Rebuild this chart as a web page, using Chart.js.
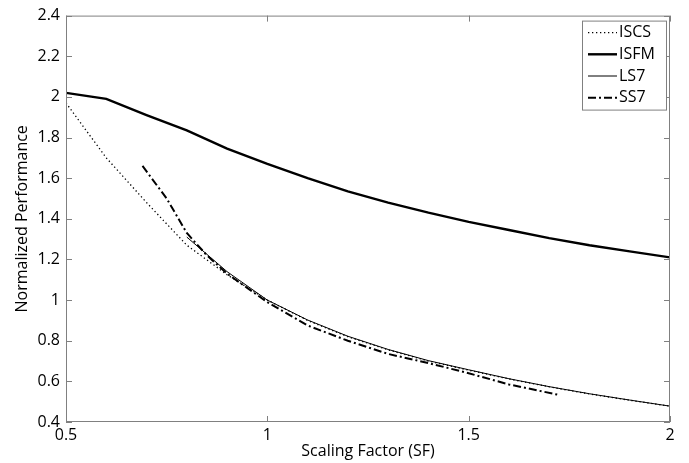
<!DOCTYPE html>
<html>
<head>
<meta charset="utf-8">
<script src="https://cdn.jsdelivr.net/npm/chart.js@4"></script>
<style>
  html, body { margin: 0; padding: 0; background: #fff; }
  #wrap { width: 689px; height: 463px; }
</style>
</head>
<body>
<div id="wrap"><canvas id="perf"></canvas></div>
<script>
// scaling factor samples and series
const sf = [0.5, 0.6, 0.7, 0.8, 0.9, 1.0, 1.1, 1.2, 1.3, 1.4, 1.5, 1.6, 1.7, 1.8, 1.9, 2.0];
const isfm = [2.02, 1.99, 1.91, 1.835, 1.745, 1.67, 1.6, 1.535, 1.48, 1.43, 1.385, 1.345, 1.305, 1.27, 1.24, 1.21];
const iscs = [1.97, 1.7, 1.48, 1.27, 1.125, 1.0, 0.9, 0.82, 0.755, 0.7, 0.655, 0.612, 0.573, 0.538, 0.507, 0.478];

const ls7X = [0.8, 0.9, 1.0, 1.1, 1.2, 1.3, 1.4, 1.5, 1.6, 1.7, 1.8, 1.9, 2.0];
const ls7Y = [1.31, 1.14, 1.0, 0.902, 0.822, 0.757, 0.702, 0.657, 0.613, 0.574, 0.539, 0.508, 0.478];

const ss7X = [0.69, 0.75, 0.8, 0.85, 0.9, 0.95, 1.0, 1.1, 1.2, 1.3, 1.4, 1.5, 1.6, 1.72];
const ss7Y = [1.66, 1.5, 1.33, 1.22, 1.13, 1.06, 0.99, 0.875, 0.8, 0.735, 0.69, 0.64, 0.585, 0.535];

const xTicks = [0.5, 1, 1.5, 2];
const yTicks = [0.4, 0.6, 0.8, 1, 1.2, 1.4, 1.6, 1.8, 2, 2.2, 2.4];

const FONT = "'Open Sans', sans-serif";
const AXIS = "#808080";

function pts(xs, ys) {
  return xs.map((x, i) => ({ x: x, y: ys[i] }));
}

// matlab style box with inward ticks
const boxPlugin = {
  id: "box",
  afterDatasetsDraw(chart) {
    const ctx = chart.ctx;
    const a = chart.chartArea;
    const xs = chart.scales.x, ys = chart.scales.y;
    ctx.save();
    ctx.strokeStyle = AXIS;
    ctx.lineWidth = 1;
    ctx.strokeRect(a.left + 0.5, a.top + 0.5, a.right - a.left - 1, a.bottom - a.top - 1);
    ctx.beginPath();
    xTicks.forEach((v) => {
      const px = Math.round(xs.getPixelForValue(v)) + 0.5;
      ctx.moveTo(px, a.bottom); ctx.lineTo(px, a.bottom - 6);
      ctx.moveTo(px, a.top); ctx.lineTo(px, a.top + 6);
    });
    yTicks.forEach((v) => {
      const py = Math.round(ys.getPixelForValue(v)) + 0.5;
      ctx.moveTo(a.left, py); ctx.lineTo(a.left + 6, py);
      ctx.moveTo(a.right, py); ctx.lineTo(a.right - 6, py);
    });
    ctx.stroke();
    ctx.restore();
  },
};

// legend box in the upper right corner
const legendPlugin = {
  id: "boxLegend",
  afterDraw(chart) {
    const ctx = chart.ctx;
    const a = chart.chartArea;
    const w = 84, h = 89;
    const x0 = a.right - 88, y0 = a.top + 5;
    ctx.save();
    ctx.fillStyle = "#fff";
    ctx.fillRect(x0, y0, w, h);
    ctx.strokeStyle = AXIS;
    ctx.lineWidth = 1;
    ctx.strokeRect(x0 + 0.5, y0 + 0.5, w, h);
    ctx.font = "16px " + FONT;
    ctx.textBaseline = "middle";
    ctx.fillStyle = "#000";
    chart.data.datasets.forEach((ds, i) => {
      const y = y0 + 12 + i * 21.7;
      ctx.beginPath();
      ctx.setLineDash(ds.borderDash || []);
      ctx.lineWidth = ds.borderWidth;
      ctx.strokeStyle = ds.borderColor;
      ctx.moveTo(x0 + 6, y);
      ctx.lineTo(x0 + 35, y);
      ctx.stroke();
      ctx.setLineDash([]);
      ctx.fillText(ds.label, x0 + 37, y);
    });
    ctx.restore();
  },
};

new Chart(document.getElementById("perf"), {
  type: "scatter",
  data: {
    datasets: [
      { label: "ISCS", data: pts(sf, iscs), borderColor: "#000", borderWidth: 1.3, borderDash: [1.3, 2.7] },
      { label: "ISFM", data: pts(sf, isfm), borderColor: "#000", borderWidth: 2.4 },
      { label: "LS7", data: pts(ls7X, ls7Y), borderColor: "#000", borderWidth: 1 },
      { label: "SS7", data: pts(ss7X, ss7Y), borderColor: "#000", borderWidth: 2, borderDash: [8, 3, 2, 3] },
    ],
  },
  options: {
    responsive: true,
    maintainAspectRatio: false,
    animation: false,
    showLine: true,
    elements: {
      point: { radius: 0, hoverRadius: 0 },
      line: { tension: 0 },
    },
    layout: { padding: { top: 13, right: 19, left: 0, bottom: 0 } },
    plugins: { legend: { display: false }, tooltip: { enabled: false } },
    scales: {
      x: {
        type: "linear",
        min: 0.5,
        max: 2,
        afterBuildTicks: (s) => { s.ticks = xTicks.map((v) => ({ value: v })); },
        afterFit: (s) => { s.height = 41; },
        grid: { display: false, drawTicks: false },
        border: { display: false },
        ticks: { color: "#000", padding: 4, font: { family: FONT, size: 16 }, callback: (v) => String(v) },
        title: { display: true, text: "Scaling Factor (SF)", color: "#000", font: { family: FONT, size: 16 }, padding: { bottom: 2 } },
      },
      y: {
        type: "linear",
        min: 0.4,
        max: 2.4,
        afterBuildTicks: (s) => { s.ticks = yTicks.map((v) => ({ value: v })); },
        afterFit: (s) => { s.width = 66; },
        grid: { display: false, drawTicks: false },
        border: { display: false },
        ticks: { color: "#000", padding: 6, font: { family: FONT, size: 16 }, callback: (v) => String(v) },
        title: { display: true, text: "Normalized Performance", color: "#000", font: { family: FONT, size: 16 }, padding: { top: 13 } },
      },
    },
  },
  plugins: [boxPlugin, legendPlugin],
});
</script>
</body>
</html>
